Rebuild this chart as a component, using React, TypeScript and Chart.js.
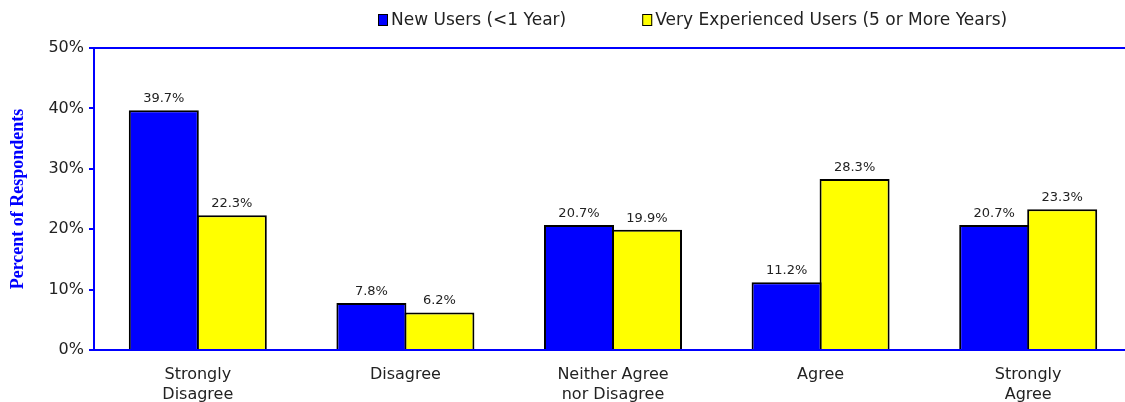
import React, { useEffect, useRef } from "react";
import { Chart, registerables } from "chart.js";

Chart.register(...registerables);

const categories: (string | string[])[] = [
  ["Strongly", "Disagree"],
  "Disagree",
  ["Neither Agree", "nor Disagree"],
  "Agree",
  ["Strongly", "Agree"],
];
const newUsers = [39.7, 7.8, 20.7, 11.2, 20.7];
const veryExperienced = [22.3, 6.2, 19.9, 28.3, 23.3];
const seriesNames = ["New Users (<1 Year)", "Very Experienced Users (5 or More Years)"];
const seriesColors = ["#0000ff", "#ffff00"];
const yTicks = [0, 10, 20, 30, 40, 50];
const yTitle = "Percent of Respondents";

const FONT = '"DejaVu Sans", Verdana, sans-serif';

const valueLabels = {
  id: "valueLabels",
  afterDatasetsDraw(chart: any) {
    const ctx = chart.ctx;
    ctx.save();
    ctx.font = `13px ${FONT}`;
    ctx.fillStyle = "#222";
    ctx.textAlign = "center";
    ctx.textBaseline = "bottom";
    chart.data.datasets.forEach((ds: any, i: number) => {
      const meta = chart.getDatasetMeta(i);
      meta.data.forEach((bar: any, j: number) => {
        ctx.fillText(ds.data[j].toFixed(1) + "%", bar.x, bar.y - 5);
      });
    });
    ctx.restore();
  },
};

const topLegend = {
  id: "topLegend",
  afterDraw(chart: any) {
    const ctx = chart.ctx;
    ctx.save();
    ctx.font = `17px ${FONT}`;
    ctx.textBaseline = "middle";
    ctx.textAlign = "left";
    let x = 378;
    const y = 20;
    seriesNames.forEach((name, i) => {
      ctx.fillStyle = seriesColors[i];
      ctx.fillRect(x, y - 6, 10, 12);
      ctx.strokeStyle = "#000";
      ctx.lineWidth = 1;
      ctx.strokeRect(x + 0.5, y - 5.5, 9, 11);
      ctx.fillStyle = "#222";
      ctx.fillText(name, x + 13, y + 1);
      x += 13 + ctx.measureText(name).width + 76;
    });
    ctx.restore();
  },
};

export default function App() {
  const ref = useRef<HTMLCanvasElement>(null);
  useEffect(() => {
    if (!ref.current) return;
    const chart = new Chart(ref.current, {
      type: "bar",
      data: {
        labels: categories,
        datasets: [
          {
            label: seriesNames[0],
            data: newUsers,
            backgroundColor: seriesColors[0],
            borderColor: "#000",
            borderWidth: 2,
            borderSkipped: "bottom",
          },
          {
            label: seriesNames[1],
            data: veryExperienced,
            backgroundColor: seriesColors[1],
            borderColor: "#000",
            borderWidth: 2,
            borderSkipped: "bottom",
          },
        ],
      },
      options: {
        animation: false,
        responsive: true,
        maintainAspectRatio: false,
        layout: { padding: { top: 48, right: 8, left: 0, bottom: 0 } },
        datasets: { bar: { barPercentage: 1.03, categoryPercentage: 0.655 } },
        plugins: {
          legend: { display: false },
          tooltip: { enabled: false },
        },
        scales: {
          x: {
            grid: { display: false, drawTicks: false },
            border: { color: "#0000ff", width: 2 },
            ticks: {
              color: "#222",
              font: { family: FONT, size: 16, lineHeight: 1.25 },
              padding: 15,
              maxRotation: 0,
              autoSkip: false,
            },
            afterFit(scale: any) {
              scale.height = 52;
            },
          },
          y: {
            min: 0,
            max: 50,
            afterBuildTicks(scale: any) {
              scale.ticks = yTicks.map((v) => ({ value: v }));
            },
            grid: {
              color: (c: any) => (c.tick && c.tick.value === 50 ? "#0000ff" : "rgba(0,0,0,0)"),
              tickColor: "#0000ff",
              lineWidth: 2,
              tickLength: 5,
            },
            border: { color: "#0000ff", width: 2 },
            ticks: {
              color: "#222",
              font: { family: FONT, size: 16 },
              padding: 5,
              callback: (v: any) => v + "%",
            },
            title: {
              display: true,
              text: yTitle,
              color: "#0000ff",
              font: { family: '"Liberation Serif", "Times New Roman", serif', size: 18, weight: "bold" },
              padding: { top: 8, bottom: 0 },
            },
            afterFit(scale: any) {
              scale.width = 94;
            },
          },
        },
      },
      plugins: [valueLabels, topLegend],
    });
    return () => chart.destroy();
  }, []);
  return (
    <div style={{ position: "fixed", left: 0, top: 0, width: 1125, height: 402, overflow: "hidden", background: "#fff" }}>
      <div style={{ position: "relative", width: 1140, height: 402 }}>
        <canvas ref={ref} />
      </div>
    </div>
  );
}
